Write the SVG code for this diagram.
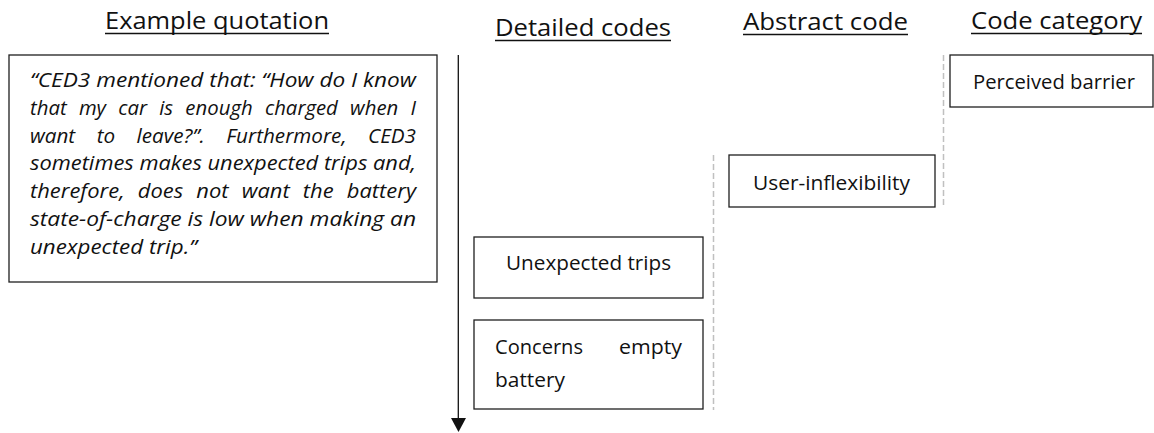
<svg xmlns="http://www.w3.org/2000/svg" width="1154" height="433" viewBox="0 0 1154 433">
  <defs>
    <style>
      .bg { fill: #ffffff; }
      .box { fill: #ffffff; stroke: #1f1f1f; stroke-width: 1.3; }
      .head { font-family: "Open Sans", "Liberation Sans", sans-serif; font-size: 24px; fill: #111111; }
      .uline { stroke: #111111; stroke-width: 1.5; }
      .lbl { font-family: "Open Sans", "Liberation Sans", sans-serif; font-size: 19.5px; fill: #111111; }
      .quote { font-family: "Open Sans", "Liberation Sans", sans-serif; font-size: 20.5px; font-style: italic; fill: #111111; }
      .wide { word-spacing: 7px; }
      .wider { word-spacing: 16px; }
      .guide { stroke: #c0c0c0; stroke-width: 1.5; stroke-dasharray: 6 3; fill: none; }
      .axis { stroke: #111111; stroke-width: 1.3; fill: none; }
      .tip { fill: #111111; }
    </style>
  </defs>

  <rect class="bg" x="0" y="0" width="1154" height="433"/>

  <!-- column headings -->
  <g id="headings">
    <text class="head" x="105" y="29" textLength="224" lengthAdjust="spacingAndGlyphs">Example quotation</text>
    <line class="uline" x1="105" y1="33.5" x2="329" y2="33.5"/>
    <text class="head" x="495" y="36" textLength="176" lengthAdjust="spacingAndGlyphs">Detailed codes</text>
    <line class="uline" x1="495" y1="40.5" x2="671" y2="40.5"/>
    <text class="head" x="743" y="30" textLength="165" lengthAdjust="spacingAndGlyphs">Abstract code</text>
    <line class="uline" x1="743" y1="34.5" x2="908" y2="34.5"/>
    <text class="head" x="971" y="29" textLength="171" lengthAdjust="spacingAndGlyphs">Code category</text>
    <line class="uline" x1="971" y1="33.5" x2="1142" y2="33.5"/>
  </g>

  <!-- quotation box, justified italic text -->
  <g id="quotation">
    <rect class="box" x="9" y="55" width="428" height="227"/>
    <text class="quote" x="30" y="87" textLength="386" lengthAdjust="spacingAndGlyphs">“CED3 mentioned that: “How do I know</text>
    <text class="quote wide" x="30" y="114.8" textLength="386" lengthAdjust="spacingAndGlyphs">that my car is enough charged when I</text>
    <text class="quote wider" x="30" y="142.6" textLength="386" lengthAdjust="spacingAndGlyphs">want to leave?”. Furthermore, CED3</text>
    <text class="quote" x="30" y="170.4" textLength="386" lengthAdjust="spacingAndGlyphs">sometimes makes unexpected trips and,</text>
    <text class="quote wide" x="30" y="198.2" textLength="386" lengthAdjust="spacingAndGlyphs">therefore, does not want the battery</text>
    <text class="quote" x="30" y="226" textLength="386" lengthAdjust="spacingAndGlyphs">state-of-charge is low when making an</text>
    <text class="quote" x="30" y="253.8" textLength="167" lengthAdjust="spacingAndGlyphs">unexpected trip.”</text>
  </g>

  <!-- detailed codes -->
  <g id="unexpected-trips">
    <rect class="box" x="474" y="237" width="229" height="61"/>
    <text class="lbl" x="506" y="270" textLength="165" lengthAdjust="spacingAndGlyphs">Unexpected trips</text>
  </g>
  <g id="concerns-empty-battery">
    <rect class="box" x="474" y="320" width="229" height="89"/>
    <text class="lbl" y="354"><tspan x="495" textLength="88" lengthAdjust="spacingAndGlyphs">Concerns</tspan><tspan x="619" textLength="63" lengthAdjust="spacingAndGlyphs">empty</tspan></text>
    <text class="lbl" x="495" y="387" textLength="70" lengthAdjust="spacingAndGlyphs">battery</text>
  </g>

  <!-- abstract code -->
  <g id="user-inflexibility">
    <rect class="box" x="729" y="155" width="206" height="52"/>
    <text class="lbl" x="753" y="190" textLength="157" lengthAdjust="spacingAndGlyphs">User-inflexibility</text>
  </g>

  <!-- code category -->
  <g id="perceived-barrier">
    <rect class="box" x="950" y="55" width="203" height="52"/>
    <text class="lbl" x="973" y="89" textLength="162" lengthAdjust="spacingAndGlyphs">Perceived barrier</text>
  </g>

  <!-- connectors: time axis and dashed level guides -->
  <g id="connectors">
    <line class="axis" x1="458.3" y1="55" x2="458.3" y2="419"/>
    <polygon class="tip" points="451,418 466,418 458.5,432"/>
    <line class="guide" x1="713.5" y1="155" x2="713.5" y2="410"/>
    <line class="guide" x1="943.5" y1="55" x2="943.5" y2="207"/>
  </g>
</svg>
